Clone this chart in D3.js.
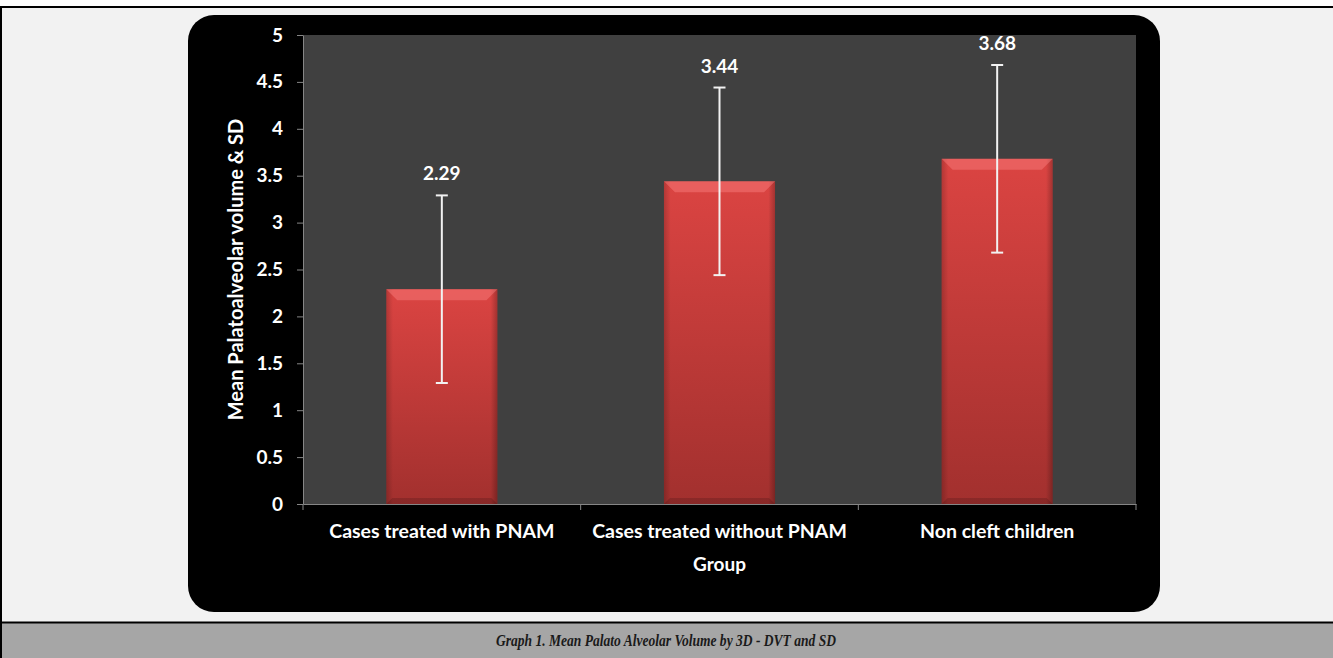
<!DOCTYPE html>
<html><head><meta charset="utf-8">
<script src="https://cdn.jsdelivr.net/npm/d3@7"></script>
<style>body{margin:0;background:#fff}svg{display:block}</style>
</head><body>
<svg id="c" width="1333" height="658"></svg>
<script>
const categories = ["Cases treated with PNAM","Cases treated without PNAM","Non cleft children"];
const means = [2.29, 3.44, 3.68];
const sds = [1.0, 1.0, 1.0];
const yTicks = [0,0.5,1,1.5,2,2.5,3,3.5,4,4.5,5];
const yTitle = "Mean Palatoalveolar volume & SD";
const xTitle = "Group";
const caption = "Graph 1. Mean Palato Alveolar Volume by 3D - DVT and SD";

const svg = d3.select("#c");
const W=1333,H=658;
const F = "Lato, 'Open Sans', sans-serif";

// page frame
svg.append("rect").attr("x",0).attr("y",0).attr("width",W).attr("height",H).attr("fill","#fff");
svg.append("rect").attr("x",1).attr("y",7).attr("width",W).attr("height",616).attr("fill","#f2f2f2");
svg.append("rect").attr("x",1).attr("y",623).attr("width",W).attr("height",35).attr("fill","#a6a6a6");
svg.append("line").attr("x1",0).attr("x2",W).attr("y1",7).attr("y2",7).attr("stroke","#000").attr("stroke-width",2);
svg.append("line").attr("x1",0).attr("x2",W).attr("y1",622.5).attr("y2",622.5).attr("stroke","#000").attr("stroke-width",2);
svg.append("line").attr("x1",1).attr("x2",1).attr("y1",6).attr("y2",H).attr("stroke","#000").attr("stroke-width",2);

svg.append("text").attr("x",666).attr("y",646).attr("text-anchor","middle")
  .attr("font-family","'Liberation Serif', 'DejaVu Serif', serif").attr("font-weight","bold").attr("font-style","italic")
  .attr("font-size",17).attr("fill","#1a1a1a")
  .attr("textLength",340).attr("lengthAdjust","spacingAndGlyphs").text(caption);

// chart area
svg.append("rect").attr("x",188).attr("y",15).attr("width",972).attr("height",597).attr("rx",26).attr("fill","#000");

const m = {l:303,r:1136,t:35,b:504};
const x = d3.scaleBand().domain(categories).range([m.l,m.r]).padding(0);
const y = d3.scaleLinear().domain([0,5]).range([m.b,m.t]);

svg.append("rect").attr("x",m.l).attr("y",m.t).attr("width",m.r-m.l).attr("height",m.b-m.t).attr("fill","#404040");

const defs = svg.append("defs");
const g1 = defs.append("linearGradient").attr("id","barg").attr("x1",0).attr("x2",0).attr("y1",0).attr("y2",1);
g1.append("stop").attr("offset","0%").attr("stop-color","#db4442");
g1.append("stop").attr("offset","100%").attr("stop-color","#a2302e");
const gh = defs.append("linearGradient").attr("id","barh").attr("x1",0).attr("x2",1).attr("y1",0).attr("y2",0);
gh.append("stop").attr("offset","0%").attr("stop-color","#000").attr("stop-opacity",0.18);
gh.append("stop").attr("offset","6%").attr("stop-color","#000").attr("stop-opacity",0);
gh.append("stop").attr("offset","94%").attr("stop-color","#000").attr("stop-opacity",0);
gh.append("stop").attr("offset","100%").attr("stop-color","#000").attr("stop-opacity",0.25);

const bw = x.bandwidth()*0.4;
const bars = svg.append("g").selectAll("g").data(categories).join("g");
bars.append("rect")
  .attr("x",d=>x(d)+x.bandwidth()/2-bw/2).attr("width",bw)
  .attr("y",(d,i)=>y(means[i])).attr("height",(d,i)=>y(0)-y(means[i]))
  .attr("fill","url(#barg)");
bars.append("rect")
  .attr("x",d=>x(d)+x.bandwidth()/2-bw/2).attr("width",bw)
  .attr("y",(d,i)=>y(means[i])).attr("height",(d,i)=>y(0)-y(means[i]))
  .attr("fill","url(#barh)");
// top bevel
bars.append("path").attr("d",(d,i)=>{
  const x0=x(d)+x.bandwidth()/2-bw/2, x1=x0+bw, yt=y(means[i]);
  return `M${x0},${yt}L${x1},${yt}L${x1-11},${yt+11}L${x0+11},${yt+11}Z`;
}).attr("fill","#ff8a8a").attr("opacity",0.4);
// bottom bevel
bars.append("path").attr("d",(d,i)=>{
  const x0=x(d)+x.bandwidth()/2-bw/2, x1=x0+bw, yb=y(0);
  return `M${x0},${yb}L${x1},${yb}L${x1-6},${yb-6}L${x0+6},${yb-6}Z`;
}).attr("fill","#000").attr("opacity",0.15);

// error bars
const eb = svg.append("g").attr("stroke","#f2f2f2").attr("stroke-width",2);
categories.forEach((c,i)=>{
  const cx = x(c)+x.bandwidth()/2;
  eb.append("line").attr("x1",cx).attr("x2",cx).attr("y1",y(means[i]+sds[i])).attr("y2",y(means[i]-sds[i]));
  eb.append("line").attr("x1",cx-6).attr("x2",cx+6).attr("y1",y(means[i]+sds[i])).attr("y2",y(means[i]+sds[i]));
  eb.append("line").attr("x1",cx-6).attr("x2",cx+6).attr("y1",y(means[i]-sds[i])).attr("y2",y(means[i]-sds[i]));
});

// value labels
svg.append("g").selectAll("text").data(categories).join("text")
  .attr("x",d=>x(d)+x.bandwidth()/2).attr("y",(d,i)=>y(means[i]+sds[i])-15)
  .attr("text-anchor","middle").attr("font-family",F).attr("font-weight","bold").attr("font-size",19)
  .attr("fill","#fff").text((d,i)=>means[i].toFixed(2));

// axes
const ya = svg.append("g").attr("transform",`translate(${m.l},0)`)
  .call(d3.axisLeft(y).tickValues(yTicks).tickSize(6).tickSizeOuter(0).tickFormat(d3.format("")));
ya.select(".domain").attr("stroke","#868686");
ya.selectAll(".tick line").attr("stroke","#868686");
ya.selectAll(".tick text").attr("fill","#fff").attr("font-family",F).attr("font-weight","bold").attr("font-size",19).attr("x",-20);

const xa = svg.append("g").attr("transform",`translate(0,${m.b})`)
  .call(d3.axisBottom(x).tickSize(0).tickSizeOuter(0));
xa.select(".domain").attr("stroke","#868686");
xa.selectAll(".tick text").attr("fill","#fff").attr("font-family",F).attr("font-weight","bold").attr("font-size",19.5).attr("dy",0).attr("y",34);
// band boundary ticks
const bounds = categories.map(c=>x(c)).concat([m.r]);
svg.append("g").selectAll("line").data(bounds).join("line")
  .attr("x1",d=>d).attr("x2",d=>d).attr("y1",m.b).attr("y2",m.b+6).attr("stroke","#868686");

svg.append("text").attr("x",(m.l+m.r)/2).attr("y",571).attr("text-anchor","middle")
  .attr("font-family",F).attr("font-weight","bold").attr("font-size",19).attr("fill","#fff").text(xTitle);
svg.append("text").attr("transform",`translate(243,${(m.t+m.b)/2}) rotate(-90)`).attr("text-anchor","middle")
  .attr("font-family",F).attr("font-weight","bold").attr("font-size",20).attr("fill","#fff").text(yTitle);
</script>
</body></html>
